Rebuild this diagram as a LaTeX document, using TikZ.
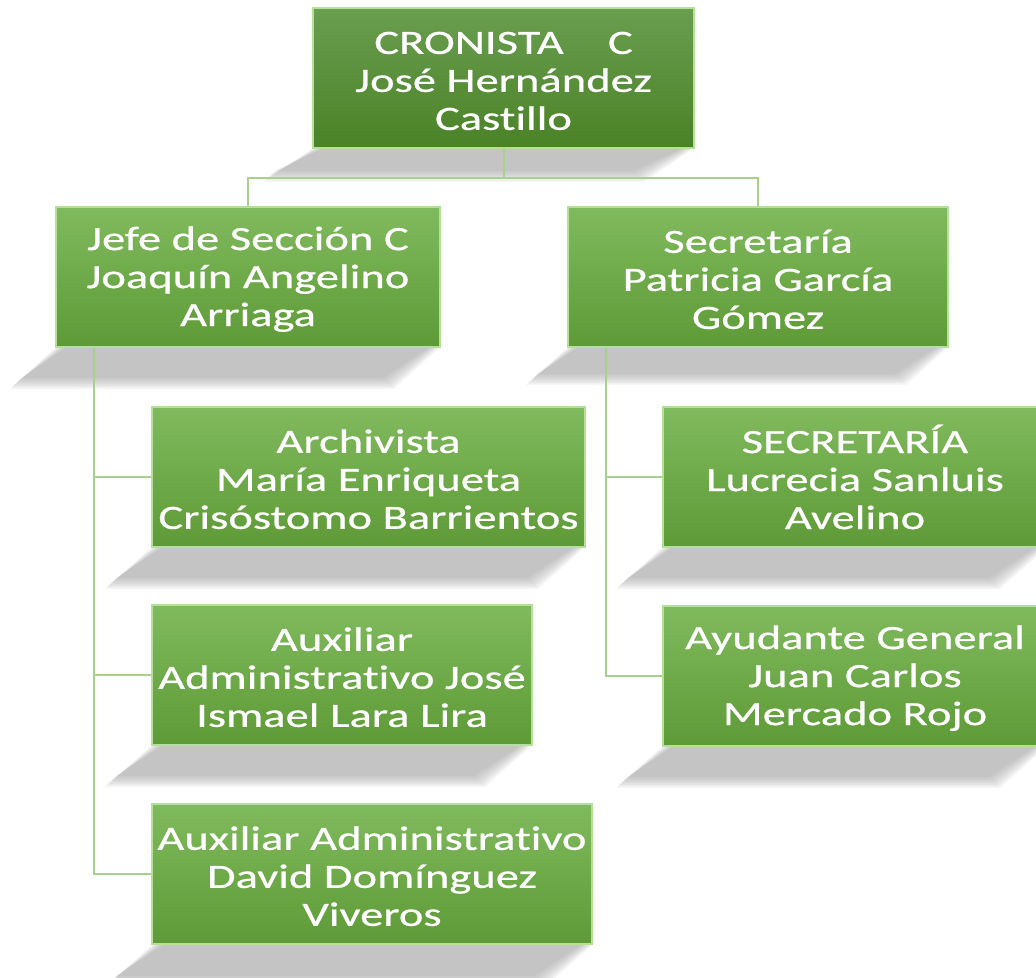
\documentclass[tikz,border=0pt]{standalone}
\usepackage{fontspec}
\setmainfont{Carlito}[FakeStretch=1.37, FakeBold=0.6, RawFeature=-liga]
\definecolor{boxtop}{HTML}{80BA5E}
\definecolor{boxbot}{HTML}{5E9A36}
\definecolor{headtop}{HTML}{6A9E50}
\definecolor{headbot}{HTML}{4A8226}
\definecolor{boxedge}{HTML}{B4E09A}
\definecolor{linkgreen}{HTML}{A9D18E}
\newcommand{\bshadow}[5]{% x1 x2 ybottom height skew
  \foreach \i in {0,...,7}{%
    \fill[black!40, opacity=0.1]
      ({#1+\i*1.6},{#3}) -- ({#2-\i*1.6},{#3}) --
      ({#2-#5-\i*1.6},{#3+#4-\i*1.6}) -- ({#1-#5+\i*1.6},{#3+#4-\i*1.6}) -- cycle;}}
\newcommand{\fl}{\rule{0pt}{21pt}}
\begin{document}
\begin{tikzpicture}[x=0.75pt,y=-0.75pt]
\tikzset{
  box/.style={rectangle, minimum height=105pt, inner sep=0pt, text=white,
    font=\fontsize{25.5}{28.5}\selectfont, align=center,
    top color=boxtop, bottom color=boxbot, draw=boxedge, line width=1.2pt},
  headbox/.style={box, top color=headtop, bottom color=headbot},
  link/.style={draw=linkgreen, line width=1.5pt}
}
\useasboundingbox (0,0) rectangle (1036,978);
\clip (0,0) rectangle (1036,978);
% shadows
\bshadow{313}{694}{148}{34}{50}
\bshadow{56}{440}{347}{42}{46}
\bshadow{568}{948}{347}{38}{42}
\bshadow{152}{585}{547}{42}{47}
\bshadow{152}{532}{745}{42}{47}
\bshadow{152}{592}{945}{42}{47}
\bshadow{663}{1047}{547}{42}{47}
\bshadow{663}{1047}{746}{42}{47}
% coordinates for connectors
\coordinate (hbar) at (0,178);
\coordinate (lspine) at (94,0);
\coordinate (rspine) at (606,0);
% nodes
\node[headbox, minimum width=285.75pt] (top) at (503.5,78) {\fl CRONISTA\hspace{1.3em}C\\José Hernández\\Castillo};
\node[box, minimum width=288pt] (jefe) at (248,277) {\fl Jefe de Sección C\\Joaquín Angelino\\Arriaga};
\node[box, minimum width=285pt] (sec) at (758,277) {\fl Secretaría\\Patricia García\\Gómez};
\node[box, minimum width=324.75pt] (arch) at (368.5,477) {\fl Archivista\\María Enriqueta\\Crisóstomo Barrientos};
\node[box, minimum width=285pt] (aux1) at (342,675) {\fl Auxiliar\\Administrativo José\\Ismael Lara Lira};
\node[box, minimum width=330pt] (aux2) at (372,874) {\fl Auxiliar Administrativo\\David Domínguez\\Viveros};
\node[box, minimum width=288pt] (secr) at (855,477) {\fl SECRETARÍA\\Lucrecia Sanluis\\Avelino};
\node[box, minimum width=288pt] (ayud) at (855,676) {\fl Ayudante General\\Juan Carlos\\Mercado Rojo};
% connectors
\draw[link] (top.south) -- (top.south |- hbar) -| (jefe.north);
\draw[link] (top.south |- hbar) -| (sec.north);
\draw[link] (lspine |- jefe.south) |- (aux2.west);
\draw[link] (lspine |- arch.west) -- (arch.west);
\draw[link] (lspine |- aux1.west) -- (aux1.west);
\draw[link] (rspine |- sec.south) |- (ayud.west);
\draw[link] (rspine |- secr.west) -- (secr.west);
\end{tikzpicture}
\end{document}
